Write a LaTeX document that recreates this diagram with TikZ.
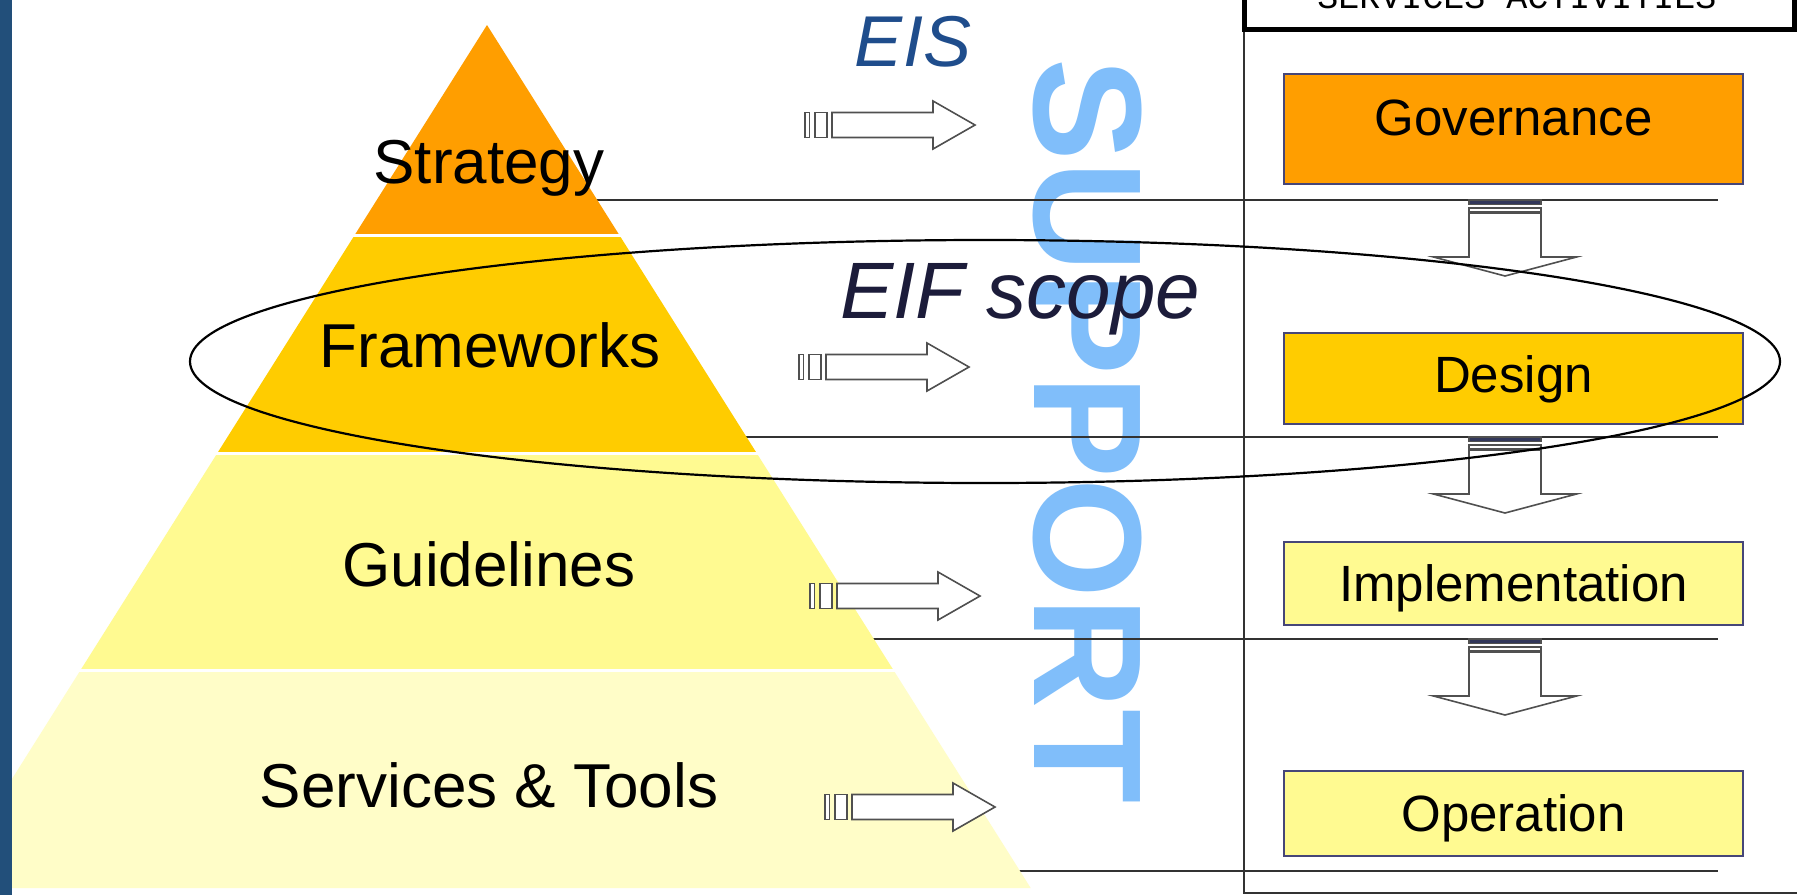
\documentclass[tikz,border=0pt]{standalone}
\usepackage{fontspec}
\setmainfont{Liberation Sans}
\newfontfamily\servmono{Liberation Mono}
\definecolor{barblue}{RGB}{34,79,122}
\definecolor{strat}{RGB}{255,158,0}
\definecolor{frame}{RGB}{255,204,0}
\definecolor{guide}{RGB}{255,250,145}
\definecolor{serv}{RGB}{255,253,200}
\definecolor{supblue}{RGB}{128,190,250}
\definecolor{eisblue}{RGB}{31,77,140}
\definecolor{eifnavy}{RGB}{28,28,58}
\definecolor{linegray}{RGB}{50,50,50}
\definecolor{boxline}{RGB}{70,70,120}
\definecolor{arrowgray}{RGB}{80,80,80}
\definecolor{arrowdark}{RGB}{50,55,90}
\begin{document}
\begin{tikzpicture}[x=1pt,y=-1pt,
  pyrtext/.style={font=\fontsize{62}{70}\selectfont, anchor=base, inner sep=0pt, text=black},
  boxnode/.style={draw=boxline, line width=2pt, minimum width=459pt, inner sep=0pt, anchor=north west, font=\fontsize{51}{60}\selectfont},
  sepline/.style={draw=linegray, line width=1.5pt},
  arrowline/.style={draw=arrowgray, line width=1.6pt},
  layersep/.style={draw=white, line width=3pt},
  pics/rarrow/.style={code={
    \draw[arrowline, fill=white] (0,-12.5) rectangle (4.5,12.5);
    \draw[arrowline, fill=white] (10,-12.5) rectangle (22,12.5);
    \draw[arrowline, fill=white] (27,-12.5) -- (128,-12.5) -- (128,-24) -- (170,0) -- (128,24) -- (128,12.5) -- (27,12.5) -- cycle;
  }},
  pics/darrow/.style={code={
    \draw[arrowline, fill=white] (-36,13) -- (-36,57) -- (-71.5,57) -- (0,76) -- (71.5,57) -- (36,57) -- (36,13) -- cycle;
    \draw[arrowline, fill=arrowdark] (-36,0) rectangle (36,4.5);
    \draw[arrowline, fill=white] (-36,8) rectangle (36,12);
  }}
]
\useasboundingbox (0,0) rectangle (1797,895);
\fill[white] (0,0) rectangle (1797,895);

% SUPPORT watermark
\node[font=\bfseries\fontsize{154}{160}\selectfont, text=supblue, rotate=-90, inner sep=0pt] (sup) at (1088,431) {SUPPORT};

% horizontal separator lines
\coordinate (l1a) at (560,200);  \coordinate (l1b) at (1718,200);
\coordinate (l2a) at (700,437);  \coordinate (l2b) at (1718,437);
\coordinate (l3a) at (840,639);  \coordinate (l3b) at (1718,639);
\coordinate (l4a) at (980,871);  \coordinate (l4b) at (1718,871);
\draw[sepline] (l1a) -- (l1b);
\draw[sepline] (l2a) -- (l2b);
\draw[sepline] (l3a) -- (l3b);
\draw[sepline] (l4a) -- (l4b);

% pyramid
\fill[serv] (80.6,670) -- (893.4,670) -- (1030.7,888) -- (-56.7,888) -- cycle;
\fill[guide] (217.4,453) -- (756.6,453) -- (893.4,670) -- (80.6,670) -- cycle;
\fill[frame] (354.7,235) -- (619.3,235) -- (756.6,453) -- (217.4,453) -- cycle;
\fill[strat] (487,25) -- (619.3,235) -- (354.7,235) -- cycle;
\draw[layersep] (340,235) -- (635,235);
\draw[layersep] (200,453) -- (775,453);
\draw[layersep] (60,670) -- (915,670);

\node[pyrtext] (strategy) at (489,183) {Strategy};
\node[pyrtext] (frameworks) at (490,367) {Frameworks};
\node[pyrtext] (guidelines) at (489,586) {Guidelines};
\node[pyrtext] (services) at (489,807) {Services \& Tools};

% right arrows
\pic at (805,125) {rarrow};
\pic at (799,367) {rarrow};
\pic at (810,596) {rarrow};
\pic at (825,807) {rarrow};

% right column
\draw[sepline] (1244,29) -- (1244,893) -- (1797,893);
\draw[line width=5pt, draw=black] (1244.5,-5) -- (1244.5,29) -- (1794.5,29) -- (1794.5,-5);
\node[font=\servmono\fontsize{35}{40}\selectfont, anchor=base, inner sep=0pt] (svcact) at (1517,8) {SERVICES ACTIVITIES};

\node[boxnode, fill=strat, text height=61pt, text depth=49pt] (gov) at (1283,73) {Governance};
\node[boxnode, fill=frame, text height=59pt, text depth=32pt] (design) at (1283,332) {Design};
\node[boxnode, fill=guide, text height=59pt, text depth=24pt] (impl) at (1283,541) {Implementation};
\node[boxnode, fill=guide, text height=60pt, text depth=25pt] (oper) at (1283,770) {Operation};

\pic at (1505,200) {darrow};
\pic at (1505,437) {darrow};
\pic at (1505,639) {darrow};

% titles
\node[font=\itshape\fontsize{72}{80}\selectfont, text=eisblue, anchor=base, inner sep=0pt] (eis) at (913,66) {EIS};
\node[font=\itshape\fontsize{80}{90}\selectfont, text=eifnavy, anchor=base west, inner sep=0pt] (eif) at (840,318) {EIF scope};

% scope ellipse
\draw[line width=2.2pt, black] (985,361.5) ellipse [x radius=795, y radius=121.5];

% left bar
\fill[barblue] (0,0) rectangle (11.5,895);
\end{tikzpicture}
\end{document}
